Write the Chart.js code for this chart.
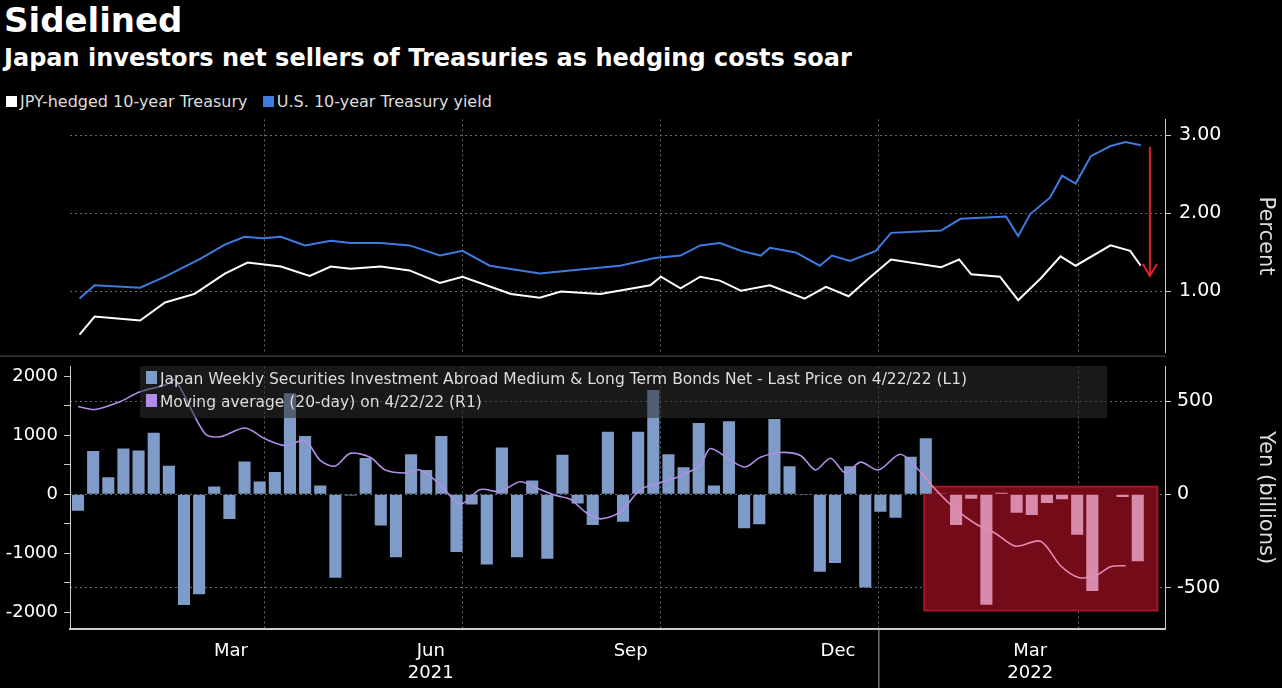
<!DOCTYPE html>
<html><head><meta charset="utf-8">
<script src="https://cdn.jsdelivr.net/npm/chart.js@4.4.0/dist/chart.umd.min.js"></script>
<style>
body{margin:0;background:#000;width:1282px;height:688px;overflow:hidden;position:relative;font-family:"DejaVu Sans",sans-serif;color:#fff}
.t{position:absolute;white-space:nowrap}
canvas{position:absolute}
</style></head><body>
<div class="t" style="left:4px;top:0px;font-size:34px;font-weight:bold;">Sidelined</div>
<div class="t" style="left:4px;top:44px;font-size:24px;font-weight:bold;">Japan investors net sellers of Treasuries as hedging costs soar</div>
<div class="t" style="left:6px;top:92px;font-size:16px;color:#ddd"><span style="display:inline-block;width:11px;height:11px;background:#fff;margin-right:3px"></span>JPY-hedged 10-year Treasury&nbsp;&nbsp;&nbsp;<span style="display:inline-block;width:11px;height:11px;background:#3d7be0;margin-right:3px"></span>U.S. 10-year Treasury yield</div>
<canvas id="c1" style="left:0;top:100px;width:1282px;height:272px"></canvas>
<canvas id="c2" style="left:0;top:349px;width:1282px;height:339px"></canvas>
<div class="t" style="left:140px;top:366px;width:967px;height:52px;background:rgba(45,45,45,0.55)"></div>
<div class="t" style="left:146px;top:368px;font-size:15.5px;color:#ddd;line-height:23px"><span style="display:inline-block;width:11px;height:13px;background:#7f9cc8;margin-right:3px"></span>Japan Weekly Securities Investment Abroad Medium &amp; Long Term Bonds Net - Last Price on 4/22/22 (L1)<br><span style="display:inline-block;width:11px;height:13px;background:#b08ee6;margin-right:3px"></span>Moving average (20-day) on 4/22/22 (R1)</div>
<script>
const bondFlows=[-280,737,290,777,743,1045,486,-1877,-1693,134,-419,559,218,380,1715,989,151,-1413,-20,615,-530,-1067,682,413,989,-978,-173,-1190,793,-1067,235,-1090,670,-156,-520,1062,-464,1062,1770,682,458,1212,151,1240,-575,-508,1280,475,-10,-1313,-1162,475,-1581,-296,-397,637,950,5,-520,-73,-1871,28,-313,-352,-145,-84,-687,-1637,10,-45,-1134];
const blueX=[0.1,1.1,4.1,5.75,8.1,9.7,11.0,12.2,13.4,15.0,16.7,18.0,20.0,21.9,23.9,25.4,27.2,30.5,32.5,35.8,38.1,39.8,41.1,42.4,43.8,45.1,45.7,47.4,49.0,49.8,51.0,52.7,53.7,57.0,58.3,61.3,62.1,62.9,64.2,65.0,65.9,66.9,68.2,69.2,70.2];
const blueY=[0.91,1.08,1.05,1.19,1.42,1.6,1.70,1.68,1.70,1.59,1.65,1.62,1.62,1.59,1.46,1.52,1.33,1.23,1.27,1.33,1.43,1.46,1.59,1.62,1.52,1.46,1.56,1.50,1.33,1.46,1.39,1.52,1.75,1.78,1.93,1.96,1.71,1.99,2.20,2.48,2.38,2.73,2.86,2.91,2.87];
const whiteX=[0.1,1.1,4.1,5.75,7.7,9.7,11.2,13.4,15.3,16.7,18.0,20.0,21.9,23.9,25.4,28.6,30.5,31.9,34.5,37.8,38.5,39.8,41.1,42.4,43.8,45.7,48.0,49.4,50.9,52.3,53.7,57.0,58.2,59.0,60.9,62.1,63.6,64.9,65.9,68.2,69.5,70.2];
const whiteY=[0.45,0.68,0.63,0.86,0.97,1.23,1.37,1.32,1.20,1.32,1.29,1.32,1.27,1.11,1.19,0.97,0.92,1.0,0.97,1.08,1.19,1.04,1.19,1.14,1.01,1.08,0.91,1.06,0.94,1.18,1.41,1.31,1.41,1.22,1.19,0.89,1.17,1.45,1.33,1.59,1.52,1.33];
const maPx=[78,95,120,140,165,175,205,220,245,265,285,305,320,335,350,370,385,405,420,440,460,480,500,520,540,555,570,585,600,620,640,660,680,700,710,730,745,760,780,800,815,830,845,860,878,900,920,935,955,975,995,1015,1040,1060,1078,1095,1110,1125];
const maY=[471,455,497,550,586,613,325,309,356,298,262,288,183,152,220,199,131,115,131,52,-52,26,16,68,26,-5,-26,-94,-131,-94,26,63,99,157,246,183,147,199,225,209,131,194,115,173,131,215,120,26,-79,-157,-209,-277,-251,-382,-445,-435,-387,-382];
const maX=maPx.map(p=>(p-78)/15.13);
const monthTicks=[{v:10.1,l:['Mar','']},{v:23.3,l:['Jun','2021']},{v:36.5,l:['Sep','']},{v:50.2,l:['Dec','']},{v:62.9,l:['Mar','2022']}];
const gridPos=[12.3,25.4,38.5,52.9,66.1];
const XMIN=-0.53,XMAX=71.8;
const grey='#6a6a6a';
const dash=[2,3];
function fixW(w){return s=>{s.width=w;};}
function gridAxis(){return {type:'linear',min:XMIN,max:XMAX,position:'bottom',offset:false,
  afterBuildTicks:a=>{a.ticks=gridPos.map(v=>({value:v}));},
  ticks:{display:false},grid:{color:grey,drawTicks:false,offset:false},border:{display:false,dash:dash},afterFit:s=>{s.height=0;}};}

new Chart(document.getElementById('c1'),{type:'line',
 data:{datasets:[
  {data:blueX.map((x,i)=>({x,y:blueY[i]})),borderColor:'#3d7be0',borderWidth:2,pointRadius:0,tension:0,yAxisID:'y'},
  {data:whiteX.map((x,i)=>({x,y:whiteY[i]})),borderColor:'#ffffff',borderWidth:2,pointRadius:0,tension:0,yAxisID:'y'}]},
 options:{responsive:false,animation:false,devicePixelRatio:1,layout:{padding:{top:6,bottom:0}},
  plugins:{legend:{display:false},tooltip:{enabled:false}},
  scales:{x:gridAxis(),
   yl:{position:'left',display:true,min:0.22,max:3.2,ticks:{display:false},grid:{display:false},border:{display:false},afterFit:fixW(70)},
   y:{position:'right',min:0.22,max:3.2,afterBuildTicks:a=>{a.ticks=[1,2,3].map(v=>({value:v}));},
    ticks:{color:'#fff',font:{size:19,family:'DejaVu Sans'},padding:8,callback:v=>v.toFixed(2)},
    grid:{color:grey,drawTicks:true,tickColor:'#ccc',tickLength:6},border:{color:'#ccc',width:1,dash:dash},
    title:{display:true,text:'Percent',color:'#ddd',font:{size:21,family:'DejaVu Sans'}},afterFit:fixW(117)}}},
 plugins:[{id:'arrow',afterDraw(c){const g=c.ctx,x=c.scales.x.getPixelForValue(70.8),y1=c.scales.y.getPixelForValue(2.85),y2=c.scales.y.getPixelForValue(1.2);
   g.save();g.strokeStyle='#e0202a';g.fillStyle='#e0202a';g.lineWidth=2;g.beginPath();g.moveTo(x,y1);g.lineTo(x,y2);g.stroke();
   g.beginPath();g.moveTo(x-7,y2-12);g.lineTo(x,y2);g.lineTo(x+7,y2-12);g.stroke();
   const yb=c.chartArea.bottom+3.5;
   g.strokeStyle='#555';g.lineWidth=1;g.beginPath();g.moveTo(0,yb);g.lineTo(c.chartArea.right,yb);g.stroke();g.restore();}}]
});

const boxPlugin={id:'box',beforeDatasetsDraw(c){const g=c.ctx,x=c.scales.x,y=c.scales.y;
  const l=x.getPixelForValue(55.9),r=x.getPixelForValue(71.3),t=y.getPixelForValue(130),b=y.getPixelForValue(-1970);
  g.save();g.fillStyle='#730b19';g.fillRect(l,t,r-l,b-t);g.strokeStyle='#a8142a';g.lineWidth=2;g.strokeRect(l,t,r-l,b-t);g.restore();}};

new Chart(document.getElementById('c2'),{type:'bar',
 data:{datasets:[
  {type:'line',data:maX.map((x,i)=>({x,y:maY[i]})),borderColor:'#b08ee6',borderWidth:1.6,pointRadius:0,tension:0.3,yAxisID:'y2',
   segment:{borderColor:ctx=>ctx.p0.parsed.x>55?'#e58ab8':'#b08ee6'}},
  {data:bondFlows.map((v,i)=>({x:i,y:v})),backgroundColor:bondFlows.map((v,i)=>i>=57?'#d88aaa':'#7f9cc8'),
   barPercentage:0.8,categoryPercentage:1,yAxisID:'y'}]},
 options:{responsive:false,animation:false,devicePixelRatio:1,layout:{padding:{top:8,bottom:0}},
  plugins:{legend:{display:false},tooltip:{enabled:false}},
  scales:{
   x:{type:'linear',min:XMIN,max:XMAX,position:'bottom',offset:false,
    afterBuildTicks:a=>{a.ticks=monthTicks.map(t=>({value:t.v}));},
    ticks:{color:'#fff',font:{size:18,family:'DejaVu Sans'},autoSkip:false,maxRotation:0,padding:4,
     callback:v=>{const t=monthTicks.find(m=>Math.abs(m.v-v)<0.01);return t?t.l:'';}},
    grid:{display:false},border:{color:'#ccc',width:2}},
   xg:gridAxis(),
   y:{position:'left',min:-2280,max:2170,afterBuildTicks:a=>{a.ticks=[-2000,-1500,-1000,-500,0,500,1000,1500,2000].map(v=>({value:v}));},
    ticks:{color:'#fff',font:{size:18,family:'DejaVu Sans'},padding:6,callback:v=>v%1000===0?String(v):''},
    grid:{drawOnChartArea:false,tickColor:'#ccc',tickLength:6},
    border:{color:'#ccc',width:1},afterFit:fixW(70)},
   y2:{position:'right',min:-720,max:686,afterBuildTicks:a=>{a.ticks=[-500,0,500].map(v=>({value:v}));},
    ticks:{color:'#fff',font:{size:19,family:'DejaVu Sans'},padding:6,callback:v=>String(v)},
    grid:{color:grey,tickColor:'#ccc',tickLength:6},border:{color:'#ccc',width:1,dash:dash},
    title:{display:true,text:'Yen (billions)',color:'#ddd',font:{size:21,family:'DejaVu Sans'}},afterFit:fixW(117)}}},
 plugins:[boxPlugin,{id:'sep',afterDraw(c){const g=c.ctx,x=c.scales.x.getPixelForValue(52.9),b=c.chartArea.bottom;
   g.save();g.strokeStyle='#aaa';g.lineWidth=1;g.beginPath();g.moveTo(x,b);g.lineTo(x,c.height);g.stroke();g.restore();}}]
});
</script></body></html>
